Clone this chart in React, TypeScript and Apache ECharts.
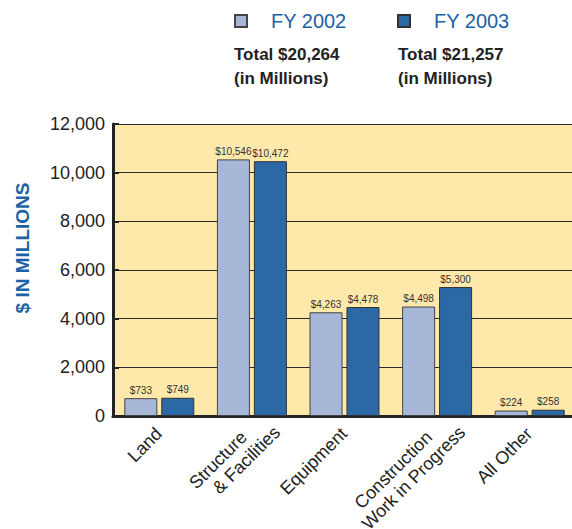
import React, { useEffect, useRef } from "react";
import * as echarts from "echarts";

const categories = ["Land", "Structure\n& Facilities", "Equipment", "Construction\nWork in Progress", "All Other"];
const fy2002 = [733, 10546, 4263, 4498, 224];
const fy2003 = [749, 10472, 4478, 5300, 258];
const seriesNames = ["FY 2002", "FY 2003"];
const totals = ["Total $20,264\n(in Millions)", "Total $21,257\n(in Millions)"];
const yTicks = { min: 0, max: 12000, interval: 2000 };

const fmt = (v: number) => v.toLocaleString("en-US");
const SANS = "'Liberation Sans', Arial, Helvetica, sans-serif";
const BLUE = "#1b62a6";
const LIGHT = "#a7b7d8";
const DARK = "#2d68a6";

const catLabel = (v: string) => {
  const lines = v.split("\n");
  if (lines.length > 1) return `{sp2| }\n{a|${lines[0]}}\n{b|${lines[1]}}`;
  return `{sp1| }\n{c|${lines[0]}}`;
};

export default function App() {
  const ref = useRef<HTMLDivElement>(null);
  useEffect(() => {
    if (!ref.current) return;
    const chart = echarts.init(ref.current, undefined, { renderer: "svg" });
    const barLabel = {
      show: true,
      position: "top",
      distance: 3,
      fontFamily: SANS,
      fontSize: 10,
      color: "#333",
      formatter: (p: any) => "$" + fmt(p.value),
    };
    const legendBase = {
      top: 11,
      padding: 0,
      itemWidth: 12,
      itemHeight: 12,
      icon: "rect",
      selectedMode: false,
      textStyle: { fontFamily: SANS, fontSize: 20, color: BLUE, padding: [0, 0, 0, 19] },
    };
    const lab = { fontFamily: SANS, fontSize: 18, color: "#222", lineHeight: 20 };
    chart.setOption({
      animation: false,
      backgroundColor: "#ffffff",
      legend: [
        { ...legendBase, left: 234, data: [seriesNames[0]] },
        { ...legendBase, left: 397, data: [seriesNames[1]] },
      ],
      grid: {
        left: 113,
        top: 124,
        width: 463,
        height: 292,
        show: true,
        backgroundColor: "#fee9ab",
        borderWidth: 0,
        containLabel: false,
        outerBoundsMode: "none",
      },
      xAxis: {
        type: "category",
        data: categories,
        axisLine: { lineStyle: { color: "#222", width: 3 } },
        axisTick: { inside: true, length: 6, lineStyle: { color: "#222", width: 2 } },
        axisLabel: {
          interval: 0,
          rotate: 45,
          margin: -16,
          verticalAlign: "top",
          align: "right",
          fontFamily: SANS,
          fontSize: 18,
          color: "#222",
          formatter: catLabel,
          rich: {
            sp1: { fontSize: 4, lineHeight: 11.5 },
            sp2: { fontSize: 4, lineHeight: 8.5 },
            a: { ...lab, padding: [0, 30, 0, 0] },
            b: { ...lab, padding: [0, 3, 0, 0] },
            c: { ...lab, padding: [0, 22, 0, 0] },
          },
        },
      },
      yAxis: {
        type: "value",
        min: yTicks.min,
        max: yTicks.max,
        interval: yTicks.interval,
        axisLine: { show: true, lineStyle: { color: "#222", width: 3 } },
        axisTick: { show: true, inside: true, length: 6, lineStyle: { color: "#222", width: 2 } },
        splitLine: { show: true, lineStyle: { color: "#2a2a2a", width: 1 } },
        axisLabel: {
          fontFamily: SANS,
          fontSize: 18,
          color: "#222",
          margin: 8,
          formatter: (v: number) => fmt(v),
        },
      },
      graphic: [
        {
          type: "text",
          x: 22,
          y: 248,
          rotation: Math.PI / 2,
          style: {
            text: "$ IN MILLIONS",
            fontFamily: SANS,
            fontSize: 19,
            fontWeight: "bold",
            fill: BLUE,
            align: "center",
            verticalAlign: "middle",
          },
        },
        {
          type: "text",
          left: 234,
          top: 42,
          style: { text: totals[0], fontFamily: SANS, fontSize: 17, fontWeight: "bold", fill: "#222", lineHeight: 24 },
        },
        {
          type: "text",
          left: 398,
          top: 42,
          style: { text: totals[1], fontFamily: SANS, fontSize: 17, fontWeight: "bold", fill: "#222", lineHeight: 24 },
        },
      ],
      series: [
        {
          name: seriesNames[0],
          type: "bar",
          data: fy2002,
          barWidth: 33,
          barGap: "12%",
          itemStyle: { color: LIGHT, borderColor: "#444", borderWidth: 1 },
          label: barLabel,
        },
        {
          name: seriesNames[1],
          type: "bar",
          data: fy2003,
          barWidth: 33,
          barGap: "12%",
          itemStyle: { color: DARK, borderColor: "#333", borderWidth: 1 },
          label: barLabel,
        },
      ],
    });
    return () => chart.dispose();
  }, []);
  return <div ref={ref} style={{ position: "absolute", left: 0, top: 0, width: 572, height: 529 }} />;
}
